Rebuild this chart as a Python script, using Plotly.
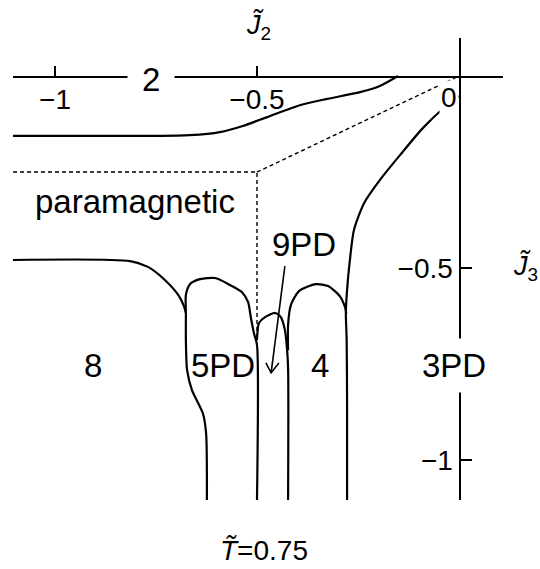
import plotly.graph_objects as go

W, H = 540, 569

# Phase boundaries in the (J2, J3) plane at T = 0.75
# boundary between phase 2 and the paramagnetic region
j2_a = [-1.104, -0.765, -0.666, -0.592, -0.535, -0.475, -0.394, -0.329, -0.245, -0.196, -0.151]
j3_a = [-0.156, -0.156, -0.154, -0.146, -0.130, -0.107, -0.076, -0.060, -0.042, -0.026, 0.0]

# boundary of the 3PD phase
j2_b = [0.0, -0.032, -0.089, -0.146, -0.196, -0.235, -0.260, -0.270, -0.277, -0.280, -0.278, -0.277, -0.277]
j3_b = [-0.052, -0.078, -0.135, -0.206, -0.271, -0.331, -0.401, -0.479, -0.557, -0.617, -0.688, -0.85, -1.104]

# boundary between phase 8 and the paramagnetic region
j2_c = [-1.104, -0.814, -0.770, -0.728, -0.693, -0.681, -0.676]
j3_c = [-0.479, -0.482, -0.497, -0.531, -0.573, -0.599, -0.617]

# 8 / 5PD boundary and the 5PD dome
j2_d = [-0.624, -0.626, -0.634, -0.661, -0.673, -0.676, -0.676, -0.676, -0.666, -0.641,
        -0.604, -0.567, -0.537, -0.522, -0.515, -0.507, -0.500, -0.500]
j3_d = [-1.104, -0.930, -0.878, -0.818, -0.766, -0.688, -0.617, -0.570, -0.542, -0.529,
        -0.526, -0.544, -0.563, -0.589, -0.630, -0.672, -0.700, -1.104]

# 9PD dome
j2_e = [-0.500, -0.495, -0.480, -0.455, -0.441, -0.431, -0.426, -0.423, -0.423]
j3_e = [-0.688, -0.643, -0.628, -0.617, -0.628, -0.661, -0.706, -0.760, -1.104]

# dome of phase 4
j2_f = [-0.423, -0.423, -0.416, -0.396, -0.354, -0.324, -0.295, -0.282, -0.279]
j3_f = [-0.714, -0.648, -0.596, -0.560, -0.542, -0.547, -0.573, -0.602, -0.617]

# dashed guide lines
j2_dash1 = [-1.104, -0.5, -0.5]
j3_dash1 = [-0.25, -0.25, -0.68]
j2_dash2 = [-0.5, 0.0]
j3_dash2 = [-0.25, 0.0]

# pointer to the narrow 9PD region
j2_arrow = [-0.431, -0.465, None, -0.478, -0.465, -0.446]
j3_arrow = [-0.495, -0.773, None, -0.747, -0.773, -0.747]

# tick labels
xtick_vals = [-1, -0.5]
xtick_text = ["\u22121", "\u22120.5"]
ytick_vals = [-0.5, -1]
ytick_text = ["\u22120.5", "\u22121"]

FONT = "Liberation Sans, Arial, sans-serif"
TICK_SIZE = 28
REGION_SIZE = 33

fig = go.Figure()

for xs, ys in [(j2_a, j3_a), (j2_b, j3_b), (j2_c, j3_c), (j2_d, j3_d), (j2_e, j3_e), (j2_f, j3_f)]:
    fig.add_trace(go.Scatter(x=xs, y=ys, mode="lines",
                             line=dict(color="black", width=2.2, shape="spline", smoothing=0.7),
                             hoverinfo="skip", showlegend=False))

dashed = dict(color="black", width=1.4, dash="4px,3px")
fig.add_trace(go.Scatter(x=j2_dash1, y=j3_dash1, mode="lines", line=dashed,
                         hoverinfo="skip", showlegend=False))
fig.add_trace(go.Scatter(x=j2_dash2, y=j3_dash2, mode="lines", line=dashed,
                         hoverinfo="skip", showlegend=False))
fig.add_trace(go.Scatter(x=j2_arrow, y=j3_arrow, mode="lines",
                         line=dict(color="black", width=1.6),
                         hoverinfo="skip", showlegend=False))

x0, x1 = 13, 503      # pixel extent of the J2 axis line
y0, y1 = 38, 500      # pixel extent of the J3 axis line

fig.update_layout(
    width=W, height=H,
    margin=dict(l=0, r=0, t=0, b=0),
    paper_bgcolor="white", plot_bgcolor="white",
    font=dict(family=FONT, color="black"),
    xaxis=dict(domain=[x0 / W, x1 / W], range=[-1.104, 0.109],
               anchor="free", position=(H - 77) / H,
               showgrid=False, zeroline=False, showline=True,
               linecolor="black", linewidth=2,
               ticks="inside", ticklen=10, tickwidth=1.5, tickcolor="black",
               tickvals=xtick_vals, ticktext=xtick_text, ticklabelstandoff=-3,
               tickfont=dict(size=TICK_SIZE, family=FONT), fixedrange=True),
    yaxis=dict(domain=[(H - y1) / H, (H - y0) / H], range=[-1.104, 0.099],
               anchor="free", position=459.5 / W, side="left",
               showgrid=False, zeroline=False, showline=True,
               linecolor="black", linewidth=2,
               ticks="inside", ticklen=11, tickwidth=1.5, tickcolor="black",
               tickvals=ytick_vals, ticktext=ytick_text,
               tickfont=dict(size=TICK_SIZE, family=FONT), fixedrange=True),
)


def label(x, y, text, size=REGION_SIZE, bg=None, pad=0, ref="x"):
    kw = dict(x=x, y=y, text=text, showarrow=False,
              font=dict(size=size, family=FONT, color="black"),
              xanchor="center", yanchor="middle")
    if ref == "paper":
        kw.update(xref="paper", yref="paper")
    else:
        kw.update(xref="x", yref="y")
    if bg:
        kw.update(bgcolor=bg, borderpad=pad)
    fig.add_annotation(**kw)


# region labels
label(-0.762, -0.010, "2", bg="white", pad=14)
label(-0.802, -0.326, "paramagnetic")
label(-0.384, -0.4375, "9PD")
label(-0.906, -0.753, "8")
label(-0.584, -0.755, "5PD")
label(-0.344, -0.755, "4")
label(-0.012, -0.753, "3PD", bg="white", pad=8)
label(-0.025, -0.057, "0", size=TICK_SIZE, bg="white", pad=1)


def px(xp, yp):
    return xp / W, 1 - yp / H


# axis titles and temperature (tilde carried by a combining mark)
ax_, ay_ = px(258, 26)
label(ax_, ay_, "<i>J\u0303</i><sub>2</sub>", size=27, ref="paper")
ax_, ay_ = px(525, 268)
label(ax_, ay_, "<i>J\u0303</i><sub>3</sub>", size=27, ref="paper")
ax_, ay_ = px(264, 550)
label(ax_, ay_, "<i>T\u0303</i>=0.75", size=28, ref="paper")

fig.write_html("out.html")
